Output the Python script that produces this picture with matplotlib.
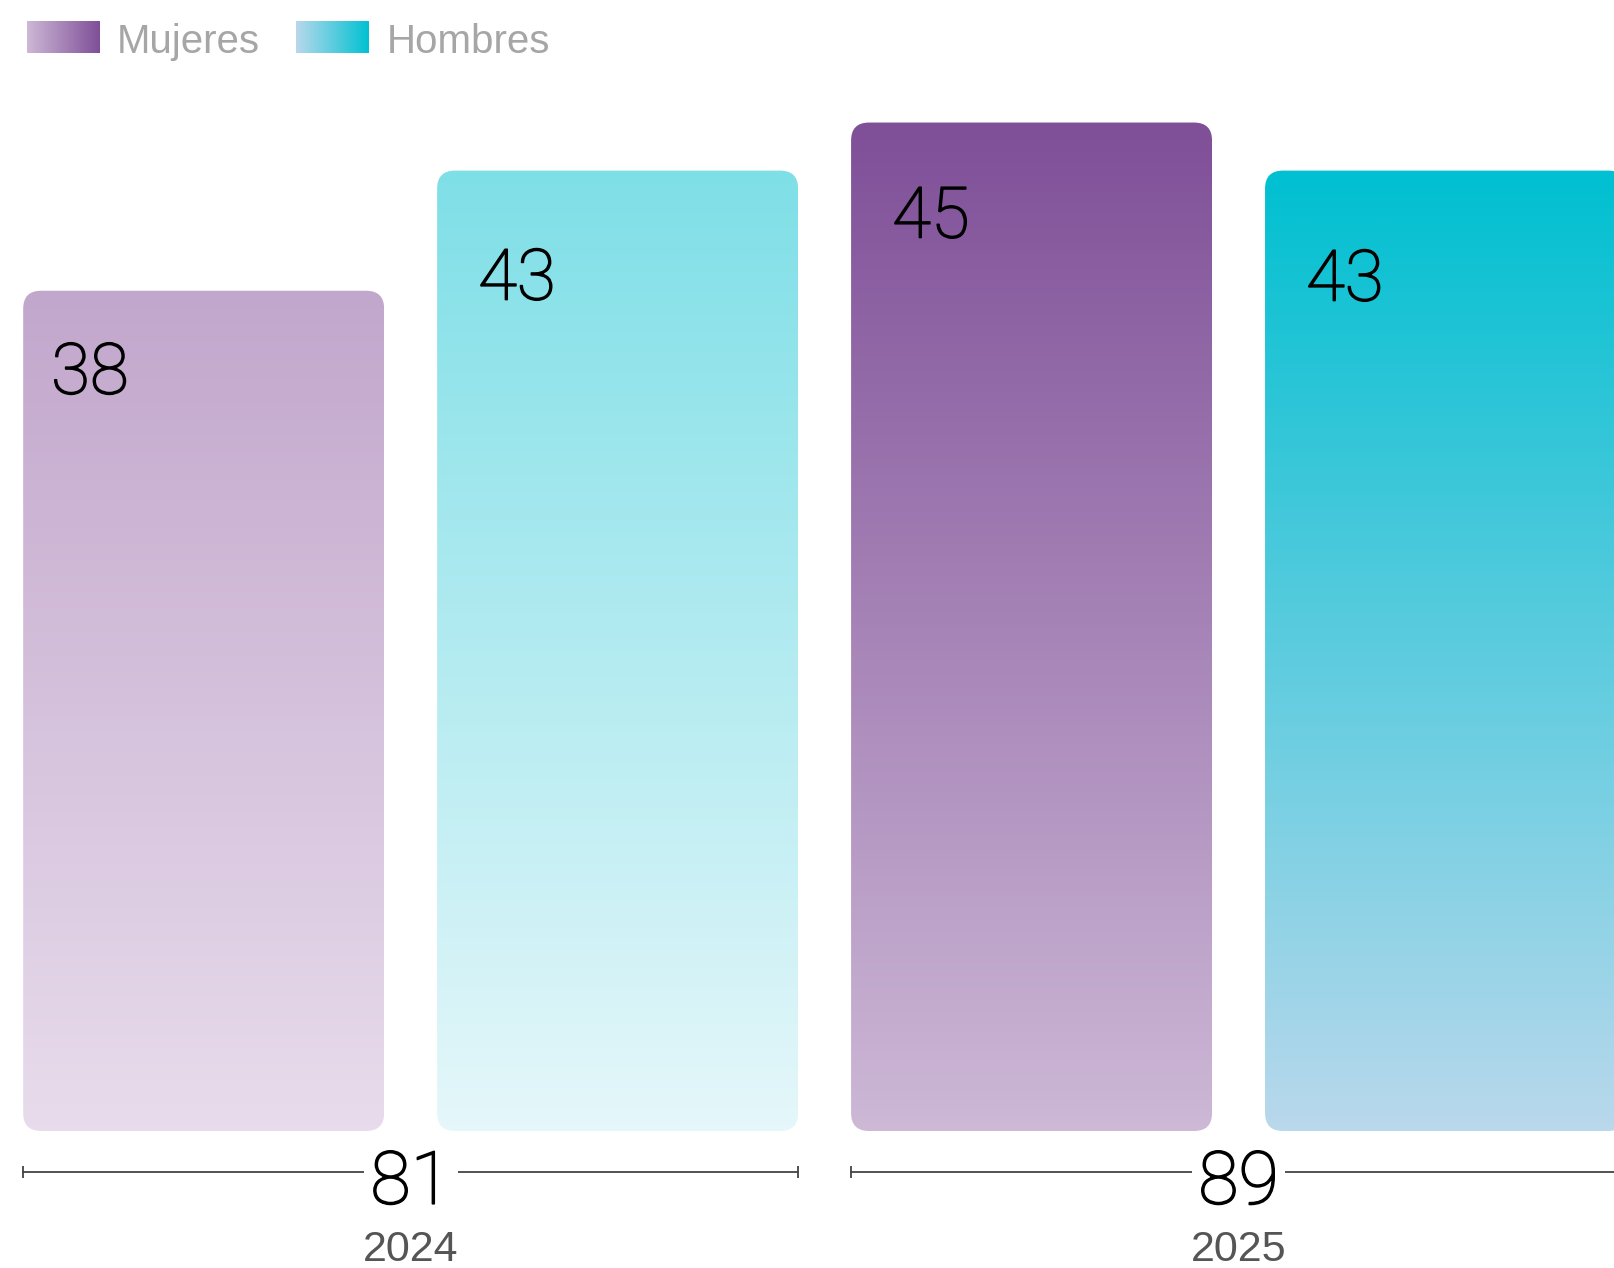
import numpy as np
import matplotlib
matplotlib.use('Agg')
import matplotlib.pyplot as plt
import matplotlib.patheffects as pe
from matplotlib.colors import LinearSegmentedColormap
from matplotlib.patches import FancyBboxPatch

years = ['2024', '2025']
totals = [81, 89]
series = ['Mujeres', 'Hombres']
mujeres = [38, 45]
hombres = [43, 43]

# (bottom, top) colours of each bar gradient
grad_mujeres = [('#e8dcec', '#c2a7cc'), ('#cdb8d6', '#7f4f98')]
grad_hombres = [('#e5f7fa', '#7fdfe7'), ('#b9d8ec', '#00c0d1')]
legend_grad = [('#cdb8d6', '#7f4f98'), ('#b9d8ec', '#00c2d2')]
label_drop = [[103, 115], [129, 130]]   # px from bar top to label baseline
label_dx = [[28, 41], [41, 41]]         # px from bar left to label

plt.rcParams['font.family'] = ['Liberation Sans', 'DejaVu Sans']
num_font = ['Roboto', 'DejaVu Sans']
thicken = [pe.withStroke(linewidth=1.1, foreground='black')]

W, H = 1614, 1268
fig = plt.figure(figsize=(W / 100, H / 100), dpi=100)
bar_bottom_px = 1131
ax = fig.add_axes([0, (H - bar_bottom_px) / H, 1, bar_bottom_px / H])
xmin, xmax = -0.492, 3.407
ymin, ymax = 3.03, 50.1
ax.set_xlim(xmin, xmax)
ax.set_ylim(ymin, ymax)
ax.axis('off')

px_x = W / (xmax - xmin)
px_y = bar_bottom_px / (ymax - ymin)
width = 0.872
radius = 18 / px_x

def rounded_bar(x, v, c_bot, c_top):
    x0 = x - width / 2
    patch = FancyBboxPatch((x0, ymin), width, v - ymin,
                           boxstyle='round,pad=0,rounding_size=%f' % radius,
                           mutation_aspect=px_x / px_y,
                           facecolor='none', edgecolor='none')
    ax.add_patch(patch)
    cmap = LinearSegmentedColormap.from_list('g', [c_bot, c_top])
    grad = np.linspace(0, 1, 256).reshape(-1, 1)
    im = ax.imshow(grad, cmap=cmap, extent=[x0, x0 + width, ymin, v],
                   origin='lower', aspect='auto', interpolation='bicubic')
    im.set_clip_path(patch)

for g in range(len(years)):
    for s, (vals, grads) in enumerate([(mujeres, grad_mujeres), (hombres, grad_hombres)]):
        x = g * 2 + s
        v = vals[g]
        rounded_bar(x, v, *grads[g])
        ax.annotate(str(v), xy=(x - width / 2, v), xytext=(label_dx[s][g], -label_drop[s][g]),
                    textcoords='offset pixels', ha='left', va='baseline',
                    fontsize=51, family=num_font, fontweight='light', color='black',
                    path_effects=thicken)

    # bracket with total
    xl = g * 2 - width / 2
    xr = g * 2 + 1 + width / 2
    yb = ymin - (1172 - bar_bottom_px) / px_y
    ax.plot([xl, xr], [yb, yb], color='#444444', lw=1.3, clip_on=False,
            marker='|', markersize=9, markevery=[0, 1], mew=1.3)
    ax.text((xl + xr) / 2, 0, str(totals[g]), ha='center', va='baseline',
            fontsize=53, family=num_font, fontweight='light', color='black',
            clip_on=False, path_effects=thicken,
            bbox=dict(facecolor='white', edgecolor='none', pad=5))
    ax.text((xl + xr) / 2, -2.38, years[g], ha='center', va='baseline',
            fontsize=31, color='#555555', clip_on=False)

ax.set_xlim(xmin, xmax)
ax.set_ylim(ymin, ymax)

# legend
sw_left = [27, 296]
txt_left = [117, 387]
for i, name in enumerate(series):
    lax = fig.add_axes([sw_left[i] / W, 1 - 53 / H, 73 / W, 32 / H])
    lcm = LinearSegmentedColormap.from_list('l', list(legend_grad[i]))
    lax.imshow(np.linspace(0, 1, 256).reshape(1, -1), cmap=lcm, aspect='auto')
    lax.axis('off')
    fig.text(txt_left[i] / W, 1 - 53 / H, name, ha='left', va='baseline',
             fontsize=29, color='#a6a6a6')

fig.savefig('out.png', dpi=100)
